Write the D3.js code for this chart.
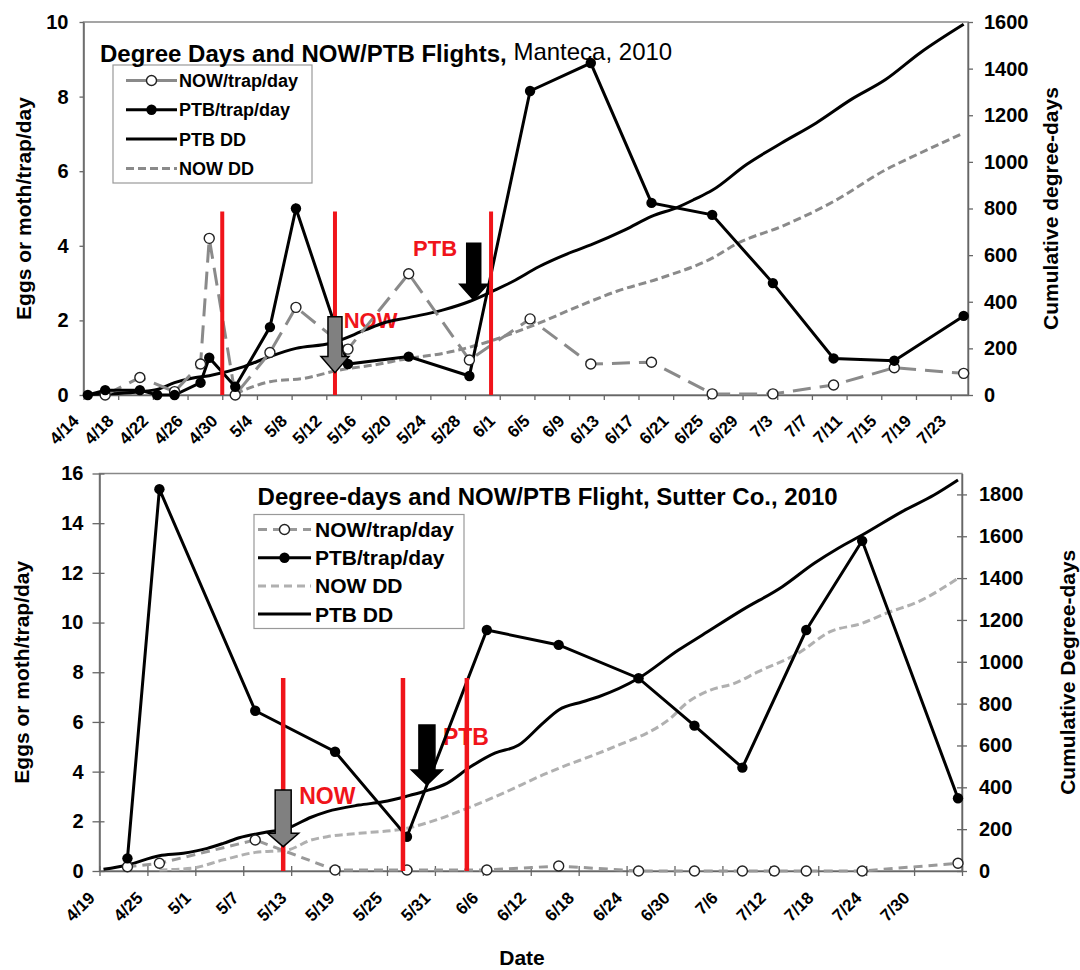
<!DOCTYPE html>
<html>
<head>
<meta charset="utf-8">
<script src="https://cdn.jsdelivr.net/npm/d3@7"></script>
<style>
  body { margin: 0; background: #fff; }
  svg { display: block; }
</style>
</head>
<body>
<svg id="chart" width="1080" height="970"></svg>
<script>
// ---------- Manteca, 2010 ----------
const mantecaTickLabels = ["4/14","4/18","4/22","4/26","4/30","5/4","5/8","5/12","5/16","5/20","5/24","5/28","6/1","6/5","6/9","6/13","6/17","6/21","6/25","6/29","7/3","7/7","7/11","7/15","7/19","7/23"];
const mantecaYTicks = [0, 2, 4, 6, 8, 10];
const mantecaDdTicks = [0, 200, 400, 600, 800, 1000, 1200, 1400, 1600];

const mantecaPtbDates = ["4/14","4/16","4/20","4/22","4/24","4/27","4/28","5/1","5/5","5/8","5/14","5/21","5/28","6/4","6/11","6/18","6/25","7/2","7/9","7/16","7/24"];
const mantecaPtb      = [0, 0.13, 0.13, 0, 0, 0.33, 1.0, 0.22, 1.82, 5.0, 0.83, 1.03, 0.51, 8.15, 8.9, 5.15, 4.83, 3.0, 0.98, 0.92, 2.12];

const mantecaNowDates = ["4/16","4/20","4/24","4/27","4/28","5/1","5/5","5/8","5/14","5/21","5/28","6/4","6/11","6/18","6/25","7/2","7/9","7/16","7/24"];
const mantecaNow      = [0, 0.47, 0.09, 0.83, 4.2, 0, 1.14, 2.35, 1.23, 3.25, 0.94, 2.04, 0.83, 0.88, 0.03, 0.03, 0.27, 0.73, 0.58];

const mantecaPtbDdDates = ["4/14","4/20","4/22","4/24","4/26","4/28","5/2","5/5","5/8","5/12","5/16","5/18","5/21","5/25","5/28","5/31","6/2","6/5","6/9","6/11","6/15","6/18","6/21","6/23","6/25","6/29","7/3","7/7","7/11","7/15","7/19","7/24"];
const mantecaPtbDd      = [2, 14, 24, 53, 72, 83, 122, 165, 200, 222, 279, 308, 332, 365, 401, 451, 487, 550, 616, 644, 709, 766, 805, 840, 878, 990, 1081, 1167, 1267, 1353, 1468, 1590];

const mantecaNowDdDates = ["5/1","5/5","5/9","5/13","5/17","5/21","5/25","5/29","6/2","6/5","6/10","6/14","6/19","6/25","6/28","7/3","7/9","7/15","7/19","7/24"];
const mantecaNowDd      = [5, 57, 72, 107, 129, 157, 179, 215, 265, 308, 387, 445, 501, 587, 652, 723, 830, 966, 1038, 1124];

const mantecaFlightDates = ["4/30", "5/13", "5/31"];
const mantecaArrows = [
  { species: "NOW", date: "5/13", tip: 0.6,  base: 1.03, top: 2.1 },
  { species: "PTB", date: "5/29", tip: 2.55, base: 2.97, top: 4.07 }
];
const mantecaNotes = [
  { text: "NOW", date: "5/14", value: 1.79 },
  { text: "PTB", date: "5/22", value: 3.73 }
];
const mantecaLegend = ["NOW/trap/day", "PTB/trap/day", "PTB DD", "NOW DD"];

// ---------- Sutter Co., 2010 ----------
const sutterTickLabels = ["4/19","4/25","5/1","5/7","5/13","5/19","5/25","5/31","6/6","6/12","6/18","6/24","6/30","7/6","7/12","7/18","7/24","7/30"];
const sutterYTicks = [0, 2, 4, 6, 8, 10, 12, 14, 16];
const sutterDdTicks = [0, 200, 400, 600, 800, 1000, 1200, 1400, 1600, 1800];

const sutterPtbDates = ["4/22","4/26","5/8","5/18","5/27","6/6","6/15","6/25","7/2","7/8","7/16","7/23","8/4"];
const sutterPtb      = [0.51, 15.37, 6.45, 4.8, 1.38, 9.7, 9.1, 7.76, 5.85, 4.16, 9.7, 13.29, 2.93];

const sutterNowDates = ["4/22","4/26","5/8","5/18","5/27","6/6","6/15","6/25","7/2","7/8","7/12","7/16","7/23","8/4"];
const sutterNow      = [0.17, 0.31, 1.25, 0.04, 0.04, 0.04, 0.2, 0, 0, 0, 0, 0, 0, 0.31];

const sutterPtbDdDates = ["4/19","4/22","4/26","4/29","5/2","5/4","5/6","5/9","5/12","5/15","5/17","5/21","5/24","5/27","5/29","6/1","6/4","6/7","6/10","6/13","6/15","6/18","6/20","6/25","6/30","7/3","7/8","7/13","7/17","7/20","7/23","7/28","8/1","8/4"];
const sutterPtbDd      = [8, 29, 73, 85, 108, 132, 159, 183, 204, 257, 284, 315, 331, 358, 379, 419, 499, 563, 602, 706, 770, 809, 833, 921, 1056, 1128, 1248, 1359, 1471, 1543, 1606, 1718, 1797, 1869];

const sutterNowDdDates = ["4/26","4/30","5/4","5/8","5/12","5/15","5/17","5/21","5/27","5/30","6/4","6/8","6/13","6/15","6/20","6/23","6/26","6/29","7/1","7/4","7/7","7/10","7/15","7/19","7/23","7/26","7/30","8/4"];
const sutterNowDd      = [5, 13, 53, 89, 100, 148, 164, 180, 204, 236, 307, 371, 459, 491, 563, 610, 658, 730, 802, 865, 897, 953, 1041, 1144, 1184, 1232, 1287, 1399];

const sutterFlightDates = ["5/12", "5/27", "6/4"];
const sutterArrows = [
  { species: "NOW", date: "5/12", tip: 0.98, base: 1.52, top: 3.26 },
  { species: "PTB", date: "5/30", tip: 3.46, base: 4.07, top: 5.88 }
];
const sutterNotes = [
  { text: "NOW", date: "5/14", value: 2.7 },
  { text: "PTB", date: "6/1",  value: 5.07 }
];
const sutterLegend = ["NOW/trap/day", "PTB/trap/day", "NOW DD", "PTB DD"];

// ---------- helpers ----------
const FONT = "'Liberation Sans', Arial, Helvetica, sans-serif";
const RED = "#f0141a";
const parseMD = s => { const [m, d] = s.split("/").map(Number); return new Date(2010, m - 1, d); };
const midDay = s => d3.timeHour.offset(parseMD(s), 12);
const zip = (dates, vals) => dates.map((d, i) => ({ date: midDay(d), v: vals[i] }));

const svg = d3.select("#chart").attr("font-family", FONT);

function styleAxis(g, size) {
  g.attr("font-family", FONT).attr("font-size", size).attr("font-weight", "bold");
  g.selectAll(".domain").attr("stroke", "#666").attr("stroke-width", 1.5);
  g.selectAll(".tick line").attr("stroke", "#666").attr("stroke-width", 1.3);
  g.selectAll(".tick text").attr("fill", "#000");
}

function arrowPath(cx, tipY, baseY, topY, shaft, head) {
  return `M${cx - shaft},${topY} L${cx + shaft},${topY} L${cx + shaft},${baseY} L${cx + head},${baseY}
          L${cx},${tipY} L${cx - head},${baseY} L${cx - shaft},${baseY} Z`;
}

function drawPanel(p) {
  const g = svg.append("g");
  const x = d3.scaleTime().domain([parseMD(p.xStart), parseMD(p.xEnd)]).range([p.left, p.right]);
  const y = d3.scaleLinear().domain([0, p.yMax]).range([p.bottom, p.top]);
  const yDD = d3.scaleLinear().domain([0, p.ddMax]).range([p.bottom, p.top]);

  // plot frame
  g.append("rect").attr("x", p.left).attr("y", p.top)
    .attr("width", p.right - p.left).attr("height", p.bottom - p.top)
    .attr("fill", "none").attr("stroke", "#888").attr("stroke-width", 1.5);

  // left axis
  const ga = g.append("g").attr("transform", `translate(${p.left},0)`)
    .call(d3.axisLeft(y).tickValues(p.yTicks).tickSizeInner(p.yTickOut).tickSizeOuter(0).tickPadding(p.yPad));
  styleAxis(ga, p.yFont);
  if (p.cross) ga.selectAll(".tick line").attr("x1", 5);

  // right axis
  const gr = g.append("g").attr("transform", `translate(${p.right},0)`)
    .call(d3.axisRight(yDD).tickValues(p.ddTicks).tickFormat(d3.format("d"))
      .tickSizeInner(5).tickSizeOuter(0).tickPadding(p.ddPad));
  styleAxis(gr, p.yFont);
  if (p.cross) gr.selectAll(".tick line").attr("x1", -5);

  // date axis
  const tickDates = p.tickLabels.map(parseMD).concat(p.extraTicks.map(parseMD));
  const gx = g.append("g").attr("transform", `translate(0,${p.bottom})`)
    .call(d3.axisBottom(x).tickValues(tickDates).tickSizeInner(5).tickSizeOuter(0)
      .tickFormat((d, i) => i < p.tickLabels.length ? p.tickLabels[i] : ""));
  styleAxis(gx, p.xFont);
  if (p.cross) gx.selectAll(".tick line").attr("y1", -5);
  gx.selectAll(".tick text")
    .attr("x", 0).attr("y", 0).attr("dy", null)
    .attr("text-anchor", "end")
    .attr("transform", `translate(-4,${p.xLabelDrop}) rotate(-45)`);

  // red species labels (drawn beneath the data lines)
  g.selectAll(".note").data(p.notes).join("text")
    .attr("x", d => x(parseMD(d.date))).attr("y", d => y(d.value))
    .attr("fill", RED).attr("font-weight", "bold").attr("font-size", p.noteFont)
    .text(d => d.text);

  // degree-day lines
  const ddLine = d3.line().x(d => x(d.date)).y(d => yDD(d.v)).curve(d3.curveMonotoneX);
  g.append("path").datum(zip(p.nowDdDates, p.nowDd)).attr("d", ddLine)
    .attr("fill", "none").attr("stroke", p.nowDdColor).attr("stroke-width", 3)
    .attr("stroke-dasharray", "8,4");
  g.append("path").datum(zip(p.ptbDdDates, p.ptbDd)).attr("d", ddLine)
    .attr("fill", "none").attr("stroke", "#000").attr("stroke-width", 3);

  // trap catches
  const trapLine = d3.line().x(d => x(d.date)).y(d => y(d.v));
  const nowPts = zip(p.nowDates, p.now);
  const ptbPts = zip(p.ptbDates, p.ptb);
  g.append("path").datum(nowPts).attr("d", trapLine)
    .attr("fill", "none").attr("stroke", p.nowColor).attr("stroke-width", 3)
    .attr("stroke-dasharray", p.nowDash);
  g.append("path").datum(ptbPts).attr("d", trapLine)
    .attr("fill", "none").attr("stroke", "#000").attr("stroke-width", 3);
  g.selectAll(".nowpt").data(nowPts).join("circle")
    .attr("cx", d => x(d.date)).attr("cy", d => y(d.v)).attr("r", 5)
    .attr("fill", "#fff").attr("stroke", "#222").attr("stroke-width", 1.4);
  g.selectAll(".ptbpt").data(ptbPts).join("circle")
    .attr("cx", d => x(d.date)).attr("cy", d => y(d.v)).attr("r", 5.2)
    .attr("fill", "#000");

  // biofix / flight lines
  g.selectAll(".flight").data(p.flightDates).join("line")
    .attr("x1", d => x(parseMD(d))).attr("x2", d => x(parseMD(d)))
    .attr("y1", y(0)).attr("y2", y(p.flightTop))
    .attr("stroke", RED).attr("stroke-width", p.flightWidth);

  // arrows
  g.selectAll(".arrow").data(p.arrows).join("path")
    .attr("d", d => arrowPath(x(parseMD(d.date)), y(d.tip), y(d.base), y(d.top), p.shaft, p.head))
    .attr("fill", d => d.species === "NOW" ? "#808080" : "#000")
    .attr("stroke", "#000").attr("stroke-width", 1.5).attr("stroke-linejoin", "miter");

  // legend
  const lg = g.append("g");
  const L = p.legend;
  lg.append("rect").attr("x", L.x).attr("y", L.y).attr("width", L.w).attr("height", L.h)
    .attr("fill", "#fff").attr("stroke", "#999").attr("stroke-width", 1.2);
  p.legendItems.forEach((name, i) => {
    const cy = L.y + L.first + i * L.step;
    const st = p.legendStyles[name];
    lg.append("line").attr("x1", L.x + L.lineX0).attr("x2", L.x + L.lineX1)
      .attr("y1", cy).attr("y2", cy)
      .attr("stroke", st.color).attr("stroke-width", 3)
      .attr("stroke-dasharray", st.dash || null);
    if (st.marker === "open") {
      lg.append("circle").attr("cx", L.x + (L.lineX0 + L.lineX1) / 2).attr("cy", cy).attr("r", 5)
        .attr("fill", "#fff").attr("stroke", "#222").attr("stroke-width", 1.4);
    } else if (st.marker === "filled") {
      lg.append("circle").attr("cx", L.x + (L.lineX0 + L.lineX1) / 2).attr("cy", cy).attr("r", 5.2)
        .attr("fill", "#000");
    }
    lg.append("text").attr("x", L.x + L.textX).attr("y", cy).attr("dy", "0.36em")
      .attr("font-weight", "bold").attr("font-size", L.font).attr("fill", "#000").text(name);
  });

  // title
  const t = g.append("text").attr("x", p.titleX).attr("y", p.titleY)
    .attr("font-size", p.titleFont).attr("fill", "#000");
  t.append("tspan").attr("font-weight", "bold").text(p.titleBold);
  if (p.titleRest) t.append("tspan").attr("font-weight", "normal").attr("dy", -2).text(p.titleRest);

  // axis titles
  g.append("text").attr("transform", `translate(${p.yTitleX},${(p.top + p.bottom) / 2}) rotate(-90)`)
    .attr("text-anchor", "middle").attr("font-size", 21).attr("font-weight", "bold")
    .attr("fill", "#000").text("Eggs or moth/trap/day");
  g.append("text").attr("transform", `translate(${p.ddTitleX},${(p.top + p.bottom) / 2}) rotate(-90)`)
    .attr("text-anchor", "middle").attr("font-size", 21).attr("font-weight", "bold")
    .attr("fill", "#000").text(p.ddTitle);
}

const mantecaStyles = {
  "NOW/trap/day": { color: "#8a8a8a", marker: "open" },
  "PTB/trap/day": { color: "#000", marker: "filled" },
  "PTB DD": { color: "#000" },
  "NOW DD": { color: "#8a8a8a", dash: "8,4" }
};
const sutterStyles = {
  "NOW/trap/day": { color: "#999", dash: "9,6", marker: "open" },
  "PTB/trap/day": { color: "#000", marker: "filled" },
  "NOW DD": { color: "#b0b0b0", dash: "8,5" },
  "PTB DD": { color: "#000" }
};

drawPanel({
  xStart: "4/14", xEnd: "7/25", left: 83.5, right: 968, top: 22, bottom: 395,
  yMax: 10, ddMax: 1600, yTicks: mantecaYTicks, ddTicks: mantecaDdTicks,
  yTickOut: 4, yPad: 11, ddPad: 11, yFont: 20, xFont: 17, xLabelDrop: 27, cross: false,
  tickLabels: mantecaTickLabels, extraTicks: [],
  ptbDates: mantecaPtbDates, ptb: mantecaPtb, nowDates: mantecaNowDates, now: mantecaNow,
  ptbDdDates: mantecaPtbDdDates, ptbDd: mantecaPtbDd, nowDdDates: mantecaNowDdDates, nowDd: mantecaNowDd,
  nowColor: "#8a8a8a", nowDash: "18,9", nowDdColor: "#8a8a8a",
  flightDates: mantecaFlightDates, flightTop: 4.92, flightWidth: 4,
  arrows: mantecaArrows, shaft: 7, head: 14,
  notes: mantecaNotes, noteFont: 22,
  legend: { x: 113, y: 65, w: 199, h: 118, first: 15.5, step: 29.3, lineX0: 13, lineX1: 64, textX: 66, font: 18 },
  legendItems: mantecaLegend, legendStyles: mantecaStyles,
  titleX: 100, titleY: 62, titleFont: 24,
  titleBold: "Degree Days and NOW/PTB Flights,", titleRest: " Manteca, 2010",
  yTitleX: 31, ddTitleX: 1058, ddTitle: "Cumulative degree-days"
});

drawPanel({
  xStart: "4/19", xEnd: "8/5", left: 99.5, right: 962, top: 473.5, bottom: 871,
  yMax: 16, ddMax: 1900, yTicks: sutterYTicks, ddTicks: sutterDdTicks,
  yTickOut: 7, yPad: 9, ddPad: 12, yFont: 20, xFont: 17, xLabelDrop: 28, cross: true,
  tickLabels: sutterTickLabels, extraTicks: ["8/5"],
  ptbDates: sutterPtbDates, ptb: sutterPtb, nowDates: sutterNowDates, now: sutterNow,
  ptbDdDates: sutterPtbDdDates, ptbDd: sutterPtbDd, nowDdDates: sutterNowDdDates, nowDd: sutterNowDd,
  nowColor: "#999", nowDash: "9,6", nowDdColor: "#b0b0b0",
  flightDates: sutterFlightDates, flightTop: 7.77, flightWidth: 4.5,
  arrows: sutterArrows, shaft: 8, head: 15.5,
  notes: sutterNotes, noteFont: 23,
  legend: { x: 254, y: 514.5, w: 210, h: 114, first: 15, step: 28.2, lineX0: 4, lineX1: 57, textX: 61, font: 21 },
  legendItems: sutterLegend, legendStyles: sutterStyles,
  titleX: 257.6, titleY: 505, titleFont: 24,
  titleBold: "Degree-days and NOW/PTB Flight, Sutter Co., 2010", titleRest: null,
  yTitleX: 29, ddTitleX: 1075, ddTitle: "Cumulative Degree-days"
});

// shared date title
svg.append("text").attr("x", 522).attr("y", 965).attr("text-anchor", "middle")
  .attr("font-weight", "bold").attr("font-size", 21).attr("fill", "#000").text("Date");
</script>
</body>
</html>
